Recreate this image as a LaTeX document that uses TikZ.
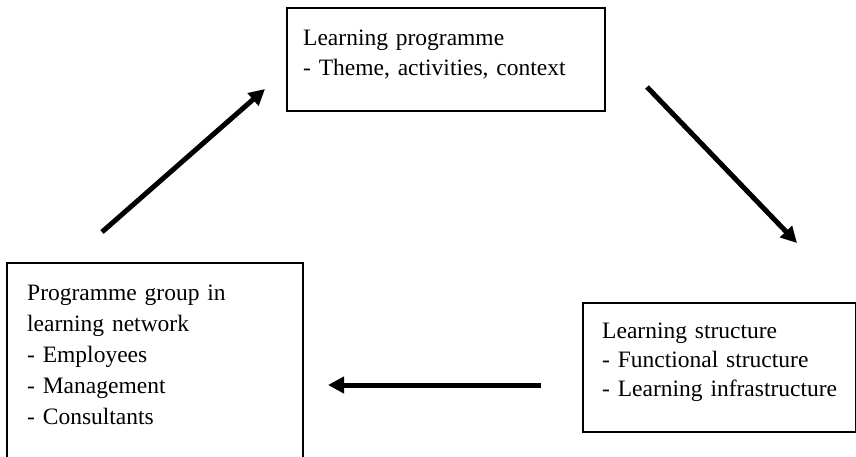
\documentclass[tikz,border=0pt]{standalone}
\usepackage{fontspec}
\setmainfont{Liberation Serif}
\usetikzlibrary{arrows.meta}
\tikzset{
  box/.style={draw, line width=1.6pt, inner sep=0pt, anchor=north west},
  label/.style={anchor=base west, inner sep=0pt, align=left, text width=280pt,
    font=\fontsize{23.5}{30}\selectfont},
  flow/.style={line width=5pt, -{Triangle[length=16pt,width=16pt]}}
}
\begin{document}
\begin{tikzpicture}[x=1pt,y=-1pt]
\useasboundingbox (0,0) rectangle (856,456);
% boxes
\node[box, minimum width=318pt, minimum height=103pt] (topbox) at (286,7) {};
\node[box, minimum width=296pt, minimum height=196pt] (leftbox) at (6,262) {};
\node[box, minimum width=273pt, minimum height=129pt] (rightbox) at (582,302) {};
% texts
\node[label] (toptext) at (303,45) {Learning programme\\- Theme, activities, context};
\node[label, font=\fontsize{23.5}{31}\selectfont] (lefttext) at (27,300) {Programme group in\\learning network\\- Employees\\- Management\\- Consultants};
\node[label, font=\fontsize{23.5}{29}\selectfont] (righttext) at (602,338) {Learning structure\\- Functional structure\\- Learning infrastructure};
% arrow ends
\coordinate (a1s) at (102,232);
\coordinate (a1e) at (265,89);
\coordinate (a2s) at (647,87);
\coordinate (a2e) at (797,243);
\coordinate (a3s) at (541,385);
\coordinate (a3e) at (328,385);
\draw[flow] (a1s) -- (a1e);
\draw[flow] (a2s) -- (a2e);
\draw[flow] (a3s) -- (a3e);
\end{tikzpicture}
\end{document}
